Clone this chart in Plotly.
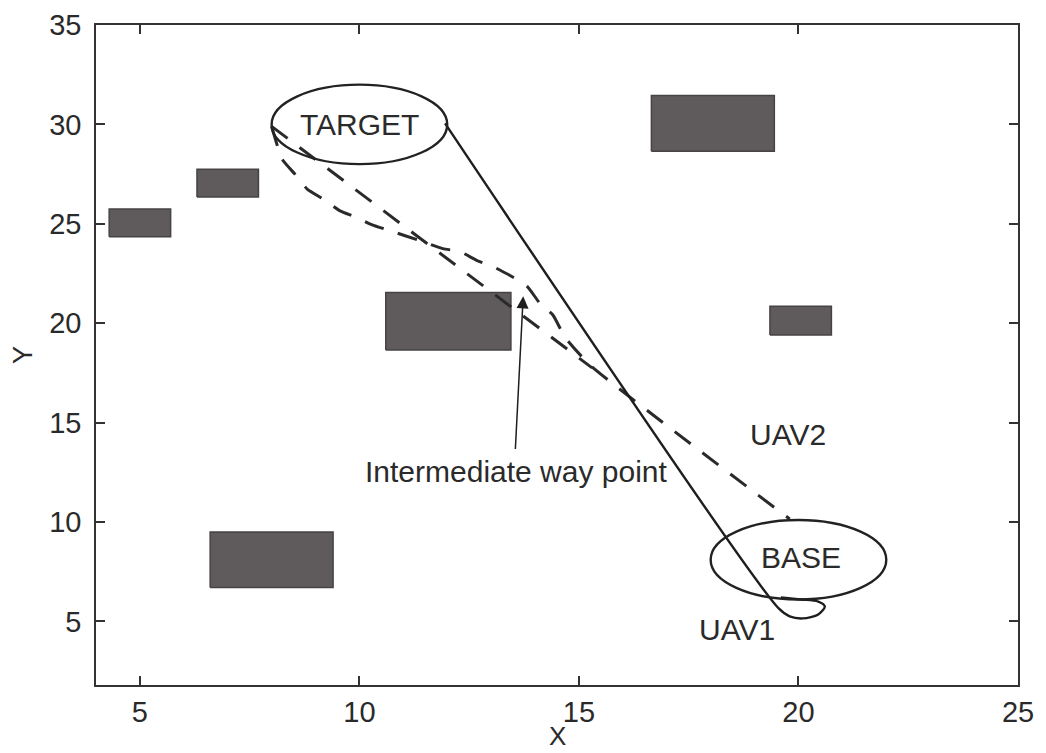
import plotly.graph_objects as go

# Obstacles (x0, x1, y0, y1)
obs_x0 = [4.3, 6.3, 6.6, 10.6, 16.65, 19.35]
obs_x1 = [5.7, 7.7, 9.4, 13.45, 19.45, 20.75]
obs_y0 = [24.35, 26.35, 6.7, 18.65, 28.65, 19.4]
obs_y1 = [25.75, 27.75, 9.5, 21.55, 31.45, 20.85]

# Target and base zones (centre, radius)
target_c = (10.0, 30.0)
base_c = (20.0, 8.1)
zone_r = 2.0

# UAV1 path (solid)
uav1_x = [11.95, 19.55, 19.8, 20.1, 20.45, 20.6, 20.45, 20.05, 19.6]
uav1_y = [30.05, 5.65, 5.25, 5.15, 5.35, 5.75, 6.0, 6.1, 6.2]

# UAV2 direct path (dashed), joins the other path near (15.3, 17.8)
uav2a_x = [8.0, 15.3]
uav2a_y = [29.9, 17.75]

# UAV2 path via intermediate way point (dashed)
uav2b_x = [8.0, 8.24, 8.53, 8.81, 9.17, 9.56, 9.9, 10.29, 10.7, 11.38, 11.9, 12.29,
           12.68, 13.04, 13.43, 13.82, 14.11, 14.41, 14.68, 15.25, 19.8]
uav2b_y = [29.9, 28.25, 27.5, 26.75, 26.25, 25.65, 25.35, 24.95, 24.65, 24.15, 23.75, 23.6,
           23.15, 22.85, 22.4, 21.85, 21.0, 20.4, 19.3, 17.9, 10.15]

# Text labels
label_text = ["TARGET", "BASE", "UAV2", "UAV1"]
label_x = [10.0, 20.05, 19.75, 18.6]
label_y = [30.0, 8.2, 14.4, 4.6]

waypoint_tip = (13.73, 21.35)
waypoint_tail = (13.55, 13.6)
waypoint_text = "Intermediate way point"
waypoint_text_pos = (13.57, 12.55)

x_ticks = [5, 10, 15, 20, 25]
y_ticks = [5, 10, 15, 20, 25, 30, 35]
x_title = "X"
y_title = "Y"

FONT = "Liberation Sans, Arial, Helvetica, sans-serif"
TXT = "#2a2a2a"

fig = go.Figure()

for x0, x1, y0, y1 in zip(obs_x0, obs_x1, obs_y0, obs_y1):
    fig.add_trace(go.Scatter(
        x=[x0, x1, x1, x0, x0], y=[y0, y0, y1, y1, y0],
        mode="lines", fill="toself", fillcolor="#5f5b5c",
        line=dict(color="#464344", width=1.5), hoverinfo="skip", showlegend=False))

for (cx, cy) in [target_c, base_c]:
    fig.add_shape(type="circle", xref="x", yref="y",
                  x0=cx - zone_r, x1=cx + zone_r, y0=cy - zone_r, y1=cy + zone_r,
                  line=dict(color="#222222", width=2.4))

fig.add_trace(go.Scatter(x=uav2a_x, y=uav2a_y, mode="lines",
                         line=dict(color="#2a2a2a", width=3, dash="20px,15px"),
                         hoverinfo="skip", showlegend=False))
fig.add_trace(go.Scatter(x=uav2b_x, y=uav2b_y, mode="lines",
                         line=dict(color="#2a2a2a", width=3, dash="20px,15px", shape="spline", smoothing=0.5),
                         hoverinfo="skip", showlegend=False))
fig.add_trace(go.Scatter(x=uav1_x, y=uav1_y, mode="lines",
                         line=dict(color="#1e1e1e", width=2.4, shape="spline", smoothing=0.8),
                         hoverinfo="skip", showlegend=False))

for t, x, y in zip(label_text, label_x, label_y):
    fig.add_annotation(x=x, y=y, text=t, showarrow=False,
                       font=dict(family=FONT, size=30, color=TXT))

fig.add_annotation(x=waypoint_tip[0], y=waypoint_tip[1], ax=waypoint_tail[0], ay=waypoint_tail[1],
                   axref="x", ayref="y", xref="x", yref="y", text="", showarrow=True,
                   arrowhead=2, arrowsize=1.6, arrowwidth=1.5, arrowcolor="#1e1e1e")
fig.add_annotation(x=waypoint_text_pos[0], y=waypoint_text_pos[1], text=waypoint_text,
                   showarrow=False, font=dict(family=FONT, size=30, color=TXT))

# X axis title as annotation placed precisely below the tick labels
fig.add_annotation(xref="paper", yref="paper", x=0.5, y=0, yanchor="middle", yshift=-51,
                   text=x_title, showarrow=False, font=dict(family=FONT, size=26, color=TXT))

axis_common = dict(showgrid=False, zeroline=False, showline=True, mirror="ticks",
                   linecolor="#333333", linewidth=1.5, ticks="inside", ticklen=9,
                   tickwidth=1.5, tickcolor="#333333", automargin=False,
                   tickfont=dict(family=FONT, size=29, color=TXT))

fig.update_layout(
    width=1046, height=753,
    margin=dict(l=88, r=36, t=17, b=76),
    paper_bgcolor="white", plot_bgcolor="white",
    xaxis=dict(range=[4, 25], tickvals=x_ticks, **axis_common),
    yaxis=dict(range=[1.8, 35], tickvals=y_ticks, ticklabelstandoff=7,
               title=dict(text=y_title, font=dict(family=FONT, size=27, color=TXT), standoff=10),
               **axis_common),
)

fig.write_html("out.html")
